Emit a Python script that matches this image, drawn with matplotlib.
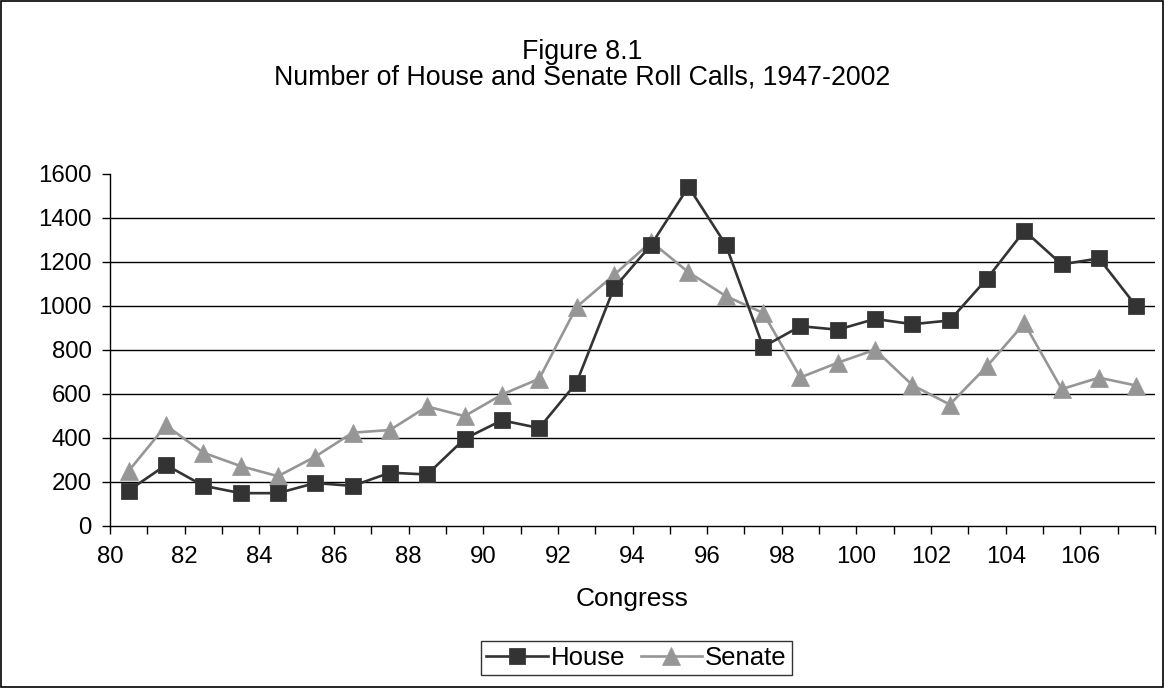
import matplotlib
matplotlib.use("Agg")
import matplotlib.pyplot as plt
from matplotlib.patches import Rectangle

# Congress numbers and roll-call counts
congress = list(range(80, 108))
house = [159, 275, 181, 147, 147, 193, 180, 240, 232, 394, 478, 443, 649, 1078,
         1276, 1540, 1276, 812, 906, 890, 939, 915, 932, 1122, 1340, 1187, 1214, 996]
senate = [248, 455, 331, 270, 224, 313, 422, 434, 541, 497, 595, 667, 993, 1138,
          1290, 1151, 1043, 966, 673, 740, 799, 638, 550, 724, 919, 620, 672, 636]
# labels sit on every other category boundary; the closing boundary stays blank
tick_labels = [str(c) if (c - 80) % 2 == 0 else "" for c in congress] + [""]
y_ticks = [0, 200, 400, 600, 800, 1000, 1200, 1400, 1600]

plt.rcParams["font.family"] = ["Liberation Sans", "DejaVu Sans"]

fig = plt.figure(figsize=(11.65, 6.88), dpi=100)
fig.patch.set_facecolor("white")
fig.add_artist(Rectangle((0.0005, 0.001), 0.998, 0.997, transform=fig.transFigure,
                         fill=False, edgecolor="black", linewidth=1.2))

ax = fig.add_axes([110 / 1165, 1 - 525.5 / 688, 1045 / 1165, 352 / 688])

# each congress sits in the middle of its category slot
xpos = [i + 0.5 for i in range(len(congress))]
ax.plot(xpos, house, color="#333333", lw=1.9, marker="s", ms=11.3,
        markeredgecolor="#3a3a3a", markeredgewidth=0.6, label="House", zorder=4)
ax.plot(xpos, senate, color="#969696", lw=1.9, marker="^", ms=12.3,
        markeredgecolor="#9c9c9c", markeredgewidth=0.6, label="Senate", zorder=3)

ax.set_xlim(0, len(congress))
ax.set_ylim(0, 1600)
ax.set_yticks(y_ticks)
ax.set_xticks(range(0, len(congress) + 1))
ax.set_xticklabels(tick_labels)

for yv in y_ticks[1:-1]:
    ax.axhline(yv, color="black", lw=1.0, zorder=1)

for side in ("top", "right"):
    ax.spines[side].set_visible(False)
for side in ("left", "bottom"):
    ax.spines[side].set_color("black")
    ax.spines[side].set_linewidth(1.0)

ax.tick_params(axis="both", direction="out", length=6, width=1.0, colors="black",
               labelsize=17.3, pad=7)
ax.tick_params(axis="x", pad=9)

fig.text(0.5, 1 - 52 / 688, "Figure 8.1", ha="center", va="center", fontsize=19.3)
fig.text(0.5, 1 - 78 / 688, "Number of House and Senate Roll Calls, 1947-2002",
         ha="center", va="center", fontsize=19.3)
fig.text(632 / 1165, 1 - 599 / 688, "Congress", ha="center", va="center", fontsize=19)

leg = fig.legend(loc="center", bbox_to_anchor=(636.5 / 1165, 1 - 658 / 688), ncol=2,
                 frameon=True, fancybox=False, fontsize=18.5, handlelength=2.4,
                 handletextpad=0.1, columnspacing=0.6, borderpad=0.2,
                 borderaxespad=0, edgecolor="black")
leg.get_frame().set_linewidth(1.0)

fig.savefig("out.png", dpi=100, facecolor="white")
